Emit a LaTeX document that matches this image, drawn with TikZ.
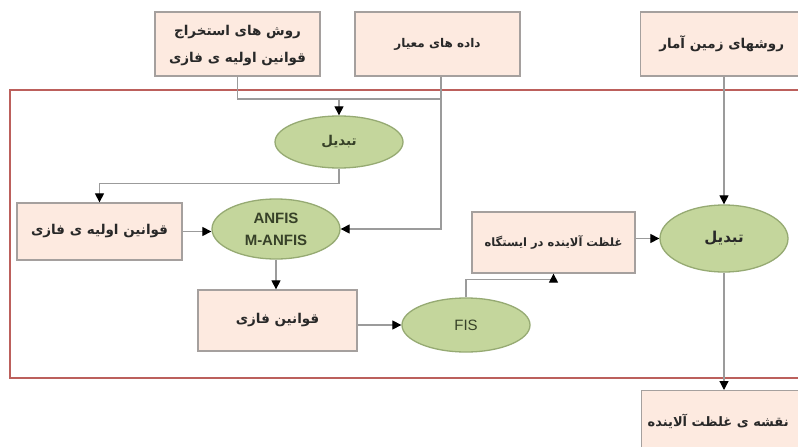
\documentclass[tikz,border=0pt]{standalone}
\usepackage{fontspec}
\setmainfont{Liberation Sans}
\newfontfamily\arabicfont[Script=Arabic]{DejaVu Sans}
\TeXXeTstate=1
\usetikzlibrary{arrows.meta,shapes.geometric}
\definecolor{boxfill}{RGB}{253,234,224}
\definecolor{boxdraw}{RGB}{165,160,158}
\definecolor{ellfill}{RGB}{196,214,156}
\definecolor{elldraw}{RGB}{150,170,115}
\definecolor{framered}{RGB}{188,96,92}
\definecolor{linegray}{RGB}{155,155,155}
\definecolor{elltext}{RGB}{55,65,40}
\definecolor{boxtext}{RGB}{40,40,40}
\begin{document}
\begin{tikzpicture}[x=1pt,y=-1pt,
  pbox/.style={rectangle, draw=boxdraw, fill=boxfill, line width=1.3pt, inner sep=0pt, align=center, text=boxtext, font=\arabicfont\bfseries\fontsize{13.5}{27}\selectfont},
  ell/.style={ellipse, draw=elldraw, fill=ellfill, line width=1.3pt, inner sep=0pt, align=center, text=elltext},
  gline/.style={draw=linegray, line width=1.2pt},
  conn/.style={gline, -{Triangle[length=9pt,width=9pt,color=black]}}]
\clip (0,0) rectangle (798,447);
\fill[white] (0,0) rectangle (798,447);
% frame
\draw[framered, line width=2pt] (805,90) -- (10,90) -- (10,378) -- (805,378);
% boxes
\node[pbox, minimum width=165pt, minimum height=64pt] (A) at (237.5,44) {\raisebox{-3pt}{\begin{tabular}{@{}c@{}}\beginR روش های استخراج\endR\\\beginR قوانین اولیه ی فازی\endR\end{tabular}}};
\node[pbox, minimum width=165pt, minimum height=64pt, font=\arabicfont\bfseries\fontsize{12}{14}\selectfont] (B) at (437.5,44) {\beginR داده های معیار\endR};
\node[pbox, minimum width=165pt, minimum height=64pt, anchor=west] (C) at (640,44) {\hspace*{-3pt}\beginR روشهای زمین آمار\endR};
\node[pbox, minimum width=165pt, minimum height=57pt] (D) at (99.5,231.5) {\beginR قوانین اولیه ی فازی\endR};
\node[pbox, minimum width=159pt, minimum height=61pt] (E) at (277.5,320.5) {\beginR قوانین فازی\endR};
\node[pbox, minimum width=163pt, minimum height=61pt, font=\arabicfont\bfseries\fontsize{11.5}{14}\selectfont] (F) at (553.5,242.5) {\beginR غلظت آلاینده در ایستگاه\endR};
\node[pbox, minimum width=165pt, minimum height=62pt, anchor=north west, font=\arabicfont\bfseries\fontsize{13}{14}\selectfont] (G) at (641,390) {\hspace*{-12pt}\beginR نقشه ی غلظت آلاینده\endR};
% ellipses
\node[ell, minimum width=128pt, minimum height=52pt, font=\arabicfont\bfseries\fontsize{13.5}{14}\selectfont] (t1) at (339,142) {\beginR تبدیل\endR};
\node[ell, minimum width=128pt, minimum height=60pt, font=\bfseries\fontsize{15}{22}\selectfont] (anfis) at (276,229) {ANFIS\\M-ANFIS};
\node[ell, minimum width=128pt, minimum height=54pt, font=\fontsize{15}{16}\selectfont] (fis) at (466,325) {FIS};
\node[ell, minimum width=128pt, minimum height=67pt, text=boxtext, font=\arabicfont\bfseries\fontsize{15}{16}\selectfont] (t2) at (724,238.5) {\beginR تبدیل\endR};
% junction coordinates
\coordinate (jAB) at (441,99);
\coordinate (jT) at (339,99);
% connectors
\draw[gline] (A.south) |- (jAB);
\draw[conn] (jT) -- (t1.north);
\draw[conn] (B.south -| jAB) |- (anfis.east);
\draw[conn] (t1.south) -- ++(0,15) -| (D.north);
\draw[conn] (D.east) -- (D.east -| anfis.west);
\draw[conn] (anfis.south) -- (anfis.south |- E.north);
\draw[conn] (fis.west -| E.east) -- (fis.west);
\draw[conn] (fis.north) -- ++(0,-18) -| (F.south);
\draw[conn] (t2.west -| F.east) -- (t2.west);
\draw[conn] (t2.north |- C.south) -- (t2.north);
\draw[conn] (t2.south) -- (t2.south |- G.north);
\end{tikzpicture}
\end{document}
